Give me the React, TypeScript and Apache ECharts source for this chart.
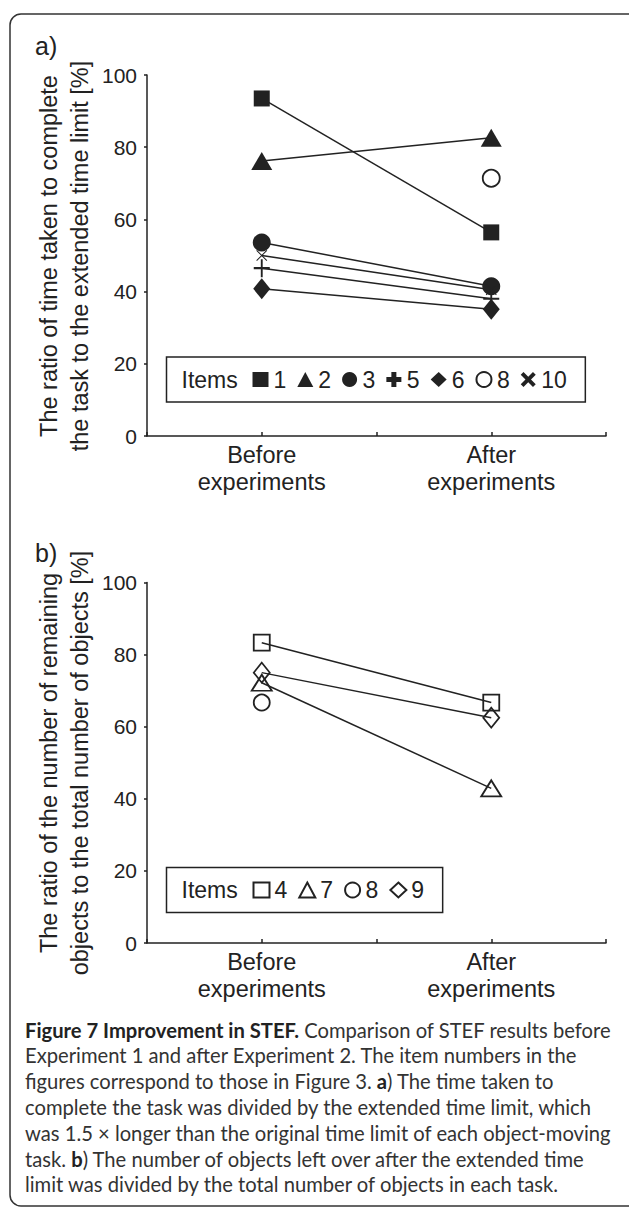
import React, { useEffect, useRef } from 'react';
import * as echarts from 'echarts';

// ---------- data ----------
const xLabels = ['Before\nexperiments', 'After\nexperiments'];
const yTickValues = [0, 20, 40, 60, 80, 100];

// panel a) ratio of time taken to the extended time limit [%]
const topItemNames = ['1', '2', '3', '5', '6', '8', '10'];
const itemA1 = [93.5, 56.4];
const itemA2 = [76.2, 82.6];
const itemA3 = [53.6, 41.5];
const itemA5 = [46.5, 38.0];
const itemA6 = [40.8, 35.1];
const itemA8 = [null, 71.4];
const itemA10 = [50.0, 40.5];

// panel b) ratio of remaining objects to total objects [%]
const bottomItemNames = ['4', '7', '8', '9'];
const itemB4 = [83.3, 66.7];
const itemB7 = [72.2, 42.9];
const itemB8 = [66.7, null];
const itemB9 = [75.0, 62.5];

const captionLines = [
  '{b|Figure 7 Improvement in STEF.} Comparison of STEF results before',
  'Experiment 1 and after Experiment 2. The item numbers in the',
  'figures correspond to those in Figure 3. {b|a}) The time taken to',
  'complete the task was divided by the extended time limit, which',
  'was 1.5 × longer than the original time limit of each object-moving',
  'task. {b|b}) The number of objects left over after the extended time',
  'limit was divided by the total number of objects in each task.',
];

// ---------- styling ----------
const FONT = 'Liberation Sans';
const CAP_FONT = 'Lato';
const CAP_SIZE = 20.2;
const INK = '#222';
const PLUS_THIN = 'path://M5.3,0H6.7V5.3H12V6.7H6.7V12H5.3V6.7H0V5.3H5.3Z';
const PLUS_BOLD = 'path://M4,0H8V4H12V8H8V12H4V8H0V4H4Z';
const CROSS_THIN = 'path://M0,0.8L0.8,0L6,5.2L11.2,0L12,0.8L6.8,6L12,11.2L11.2,12L6,6.8L0.8,12L0,11.2L5.2,6Z';
const CROSS_BOLD = 'path://M2.2,0L6,3.8L9.8,0L12,2.2L8.2,6L12,9.8L9.8,12L6,8.2L2.2,12L0,9.8L3.8,6L0,2.2Z';

const toPoints = (vals: (number | null)[]) =>
  vals.map((v, i) => [2 * i + 1, v]).filter((d) => d[1] !== null);

function mkSeries(name: string, vals: (number | null)[], idx: number, symbol: string, size: any, filled: boolean) {
  return {
    type: 'line',
    name,
    xAxisIndex: idx,
    yAxisIndex: idx,
    data: toPoints(vals),
    symbol,
    symbolSize: size,
    showSymbol: true,
    silent: true,
    lineStyle: { color: INK, width: 1.5 },
    itemStyle: filled
      ? { color: INK, borderWidth: 0 }
      : { color: 'rgba(0,0,0,0)', borderColor: INK, borderWidth: 1.8 },
    emphasis: { disabled: true },
  };
}

const legendFilled = (name: string, icon: string) => ({
  name,
  icon,
  itemStyle: { color: INK, borderWidth: 0 },
});
const legendOpen = (name: string, icon: string) => ({
  name,
  icon,
  itemStyle: { color: 'rgba(0,0,0,0)', borderColor: INK, borderWidth: 2 },
});

const gridTops = [75, 582.5];
const gridHeights = [361, 360.5];

function axesFor(i: number) {
  return {
    x: {
      type: 'value',
      gridIndex: i,
      min: 0,
      max: 4,
      interval: 1,
      axisLine: { show: true, lineStyle: { color: INK, width: 1.5 } },
      axisTick: { show: true, inside: true, length: 4, lineStyle: { color: INK, width: 1.5 } },
      splitLine: { show: false },
      axisLabel: {
        margin: 5,
        fontFamily: FONT,
        fontSize: 23.5,
        lineHeight: 27,
        color: INK,
        formatter: (v: number) => {
          const k = (v - 1) / 2;
          return Number.isInteger(k) && xLabels[k] ? xLabels[k] : '';
        },
      },
    },
    y: {
      type: 'value',
      gridIndex: i,
      min: yTickValues[0],
      max: yTickValues[yTickValues.length - 1],
      interval: yTickValues[1] - yTickValues[0],
      axisLine: { show: true, lineStyle: { color: INK, width: 1.5 } },
      axisTick: { show: true, inside: false, length: 3, lineStyle: { color: INK, width: 1.5 } },
      splitLine: { show: false },
      axisLabel: { margin: 10, fontFamily: FONT, fontSize: 21, color: INK },
    },
  };
}

const legendBase = {
  left: 166.5,
  orient: 'horizontal',
  padding: [10, 18.5, 10, 86],
  itemGap: 11,
  itemWidth: 16,
  itemHeight: 15,
  borderColor: INK,
  borderWidth: 1.5,
  borderRadius: 0,
  backgroundColor: '#fff',
  selectedMode: false,
  textStyle: { fontFamily: FONT, fontSize: 23, color: INK, lineHeight: 25 },
};

export default function App() {
  const ref = useRef<HTMLDivElement>(null);

  useEffect(() => {
    if (!ref.current) return;
    const chart = echarts.init(ref.current, undefined, { renderer: 'svg' });
    const a0 = axesFor(0);
    const a1 = axesFor(1);

    const graphics: any[] = [
      {
        type: 'rect',
        z: 0,
        silent: true,
        shape: { x: 10, y: 14, width: 640, height: 1192, r: 11 },
        style: { fill: 'none', stroke: '#333', lineWidth: 1.5 },
      },
      { type: 'text', z: 100, x: 35, y: 46, style: { text: 'a)', fontFamily: FONT, fontSize: 25, fill: INK, textVerticalAlign: 'middle' } },
      { type: 'text', z: 100, x: 35, y: 553, style: { text: 'b)', fontFamily: FONT, fontSize: 25, fill: INK, textVerticalAlign: 'middle' } },
      // y axis titles
      { type: 'text', z: 100, x: 49, y: 256, rotation: Math.PI / 2, style: { text: 'The ratio of time taken to complete', fontFamily: FONT, fontSize: 23.5, fill: INK, textAlign: 'center', textVerticalAlign: 'middle' } },
      { type: 'text', z: 100, x: 80, y: 256, rotation: Math.PI / 2, style: { text: 'the task to the extended time limit [%]', fontFamily: FONT, fontSize: 23.5, fill: INK, textAlign: 'center', textVerticalAlign: 'middle' } },
      { type: 'text', z: 100, x: 49, y: 763, rotation: Math.PI / 2, style: { text: 'The ratio of the number of remaining', fontFamily: FONT, fontSize: 23.5, fill: INK, textAlign: 'center', textVerticalAlign: 'middle' } },
      { type: 'text', z: 100, x: 80, y: 763, rotation: Math.PI / 2, style: { text: 'objects to the total number of objects [%]', fontFamily: FONT, fontSize: 23.5, fill: INK, textAlign: 'center', textVerticalAlign: 'middle' } },
      // "Items" labels in the legend boxes
      { type: 'text', z: 100, x: 181.5, y: 379.5, style: { text: 'Items', fontFamily: FONT, fontSize: 23, fill: INK, textVerticalAlign: 'middle' } },
      { type: 'text', z: 100, x: 181.5, y: 890, style: { text: 'Items', fontFamily: FONT, fontSize: 23, fill: INK, textVerticalAlign: 'middle' } },
    ];
    const baseline0 = 1037;
    const lineStep = 25.8;
    captionLines.forEach((t, i) => {
      graphics.push({
        type: 'text',
        z: 100,
        x: 25,
        y: baseline0 + i * lineStep - 7.5,
        style: {
          text: t,
          fontFamily: CAP_FONT,
          fontSize: CAP_SIZE,
          fill: '#333',
          textVerticalAlign: 'middle',
          rich: { b: { fontFamily: CAP_FONT, fontSize: CAP_SIZE, fontWeight: 'bold', fill: '#222' } },
        },
      });
    });

    const option: any = {
      animation: false,
      backgroundColor: '#fff',
      grid: [
        { left: 147, top: gridTops[0], width: 459, height: gridHeights[0], containLabel: false },
        { left: 147, top: gridTops[1], width: 459, height: gridHeights[1], containLabel: false },
      ],
      xAxis: [a0.x, a1.x],
      yAxis: [a0.y, a1.y],
      legend: [
        {
          ...legendBase,
          top: 357,
          data: [
            legendFilled('1', 'rect'),
            legendFilled('2', 'triangle'),
            legendFilled('3', 'circle'),
            legendFilled('5', PLUS_BOLD),
            legendFilled('6', 'diamond'),
            legendOpen('8', 'circle'),
            legendFilled('10', CROSS_BOLD),
          ].filter((d) => topItemNames.includes(d.name)),
        },
        {
          ...legendBase,
          top: 867.5,
          data: [
            legendOpen('4', 'rect'),
            legendOpen('7', 'triangle'),
            legendOpen('8', 'circle'),
            legendOpen('9', 'diamond'),
          ].filter((d) => bottomItemNames.includes(d.name)),
        },
      ],
      series: [
        mkSeries('1', itemA1, 0, 'rect', 16, true),
        mkSeries('2', itemA2, 0, 'triangle', [21, 18], true),
        mkSeries('3', itemA3, 0, 'circle', 18, true),
        mkSeries('5', itemA5, 0, PLUS_THIN, [16, 18], true),
        mkSeries('6', itemA6, 0, 'diamond', [17, 21], true),
        mkSeries('8', itemA8, 0, 'circle', 17, false),
        mkSeries('10', itemA10, 0, CROSS_THIN, 11, true),
        mkSeries('4', itemB4, 1, 'rect', 16, false),
        mkSeries('7', itemB7, 1, 'triangle', [20, 16], false),
        mkSeries('8', itemB8, 1, 'circle', 16, false),
        mkSeries('9', itemB9, 1, 'diamond', [16, 20], false),
      ],
      graphic: graphics,
    };
    chart.setOption(option);
    return () => chart.dispose();
  }, []);

  return (
    <div
      ref={ref}
      style={{ position: 'absolute', left: 0, top: 0, width: 629, height: 1208, background: '#fff' }}
    />
  );
}
